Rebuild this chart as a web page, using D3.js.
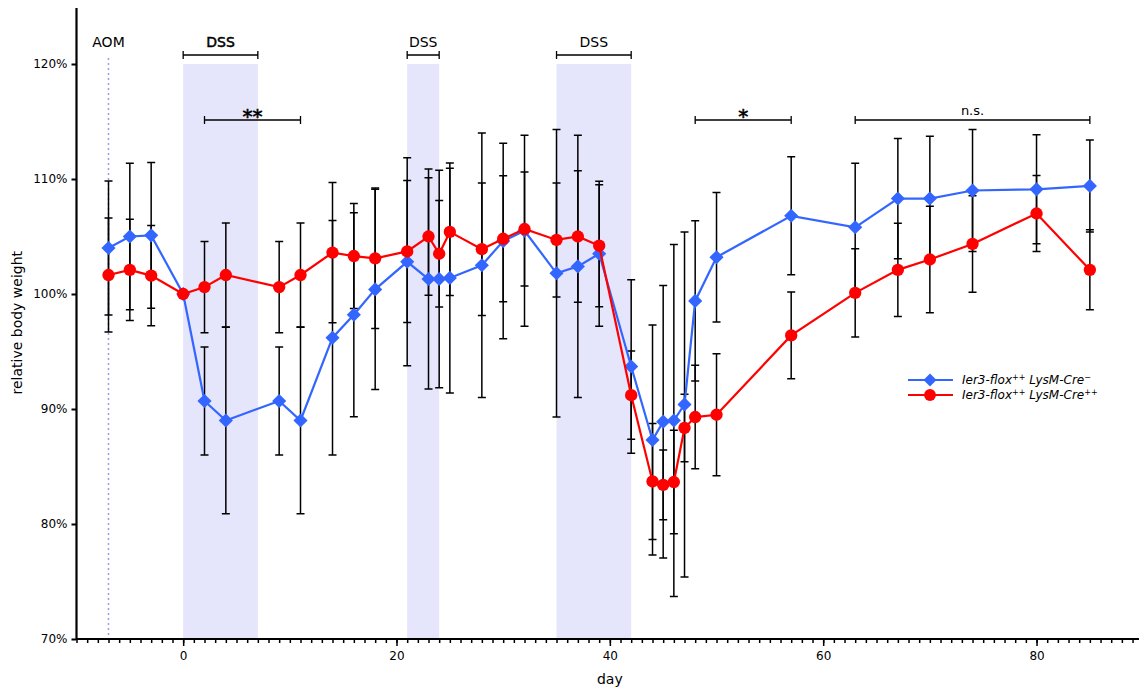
<!DOCTYPE html>
<html>
<head>
<meta charset="utf-8">
<script src="https://cdn.jsdelivr.net/npm/d3@7"></script>
<style>
  body { margin: 0; background: #fff; }
  text { font-family: "DejaVu Sans", sans-serif; }
</style>
</head>
<body>
<svg id="chart" width="1139" height="688"></svg>
<script>
let width = 1139,
  height = 688

// days of measurement
let days = [-7, -5, -3, 0, 2, 4, 9, 11, 14, 16, 18, 21, 23, 24, 25, 28, 30, 32, 35, 37, 39,
  42, 44, 45, 46, 47, 48, 50, 57, 63, 67, 70, 74, 80, 85]

// Ier3-flox++ LysM-Cre-
let blueMean = [104.0, 105.0, 105.1, 100, 90.7, 89.0, 90.7, 89.0, 96.2, 98.2, 100.4, 102.8, 101.3, 101.3, 101.4,
  102.5, 104.6, 105.5, 101.8, 102.4, 103.5, 93.7, 87.3, 88.9, 89.0, 90.4, 99.4, 103.2, 106.8,
  105.8, 108.3, 108.3, 109.0, 109.1, 109.4]
let blueErr = [5.83, 6.37, 6.33, 0, 4.7, 8.1, 4.7, 8.1, 10.2, 8.87, 8.7, 9.04, 9.57, 9.46, 10.0,
  11.5, 8.5, 8.3, 12.5, 11.4, 6.3, 7.54, 10.0, 11.85, 15.3, 15.0, 6.96, 5.63, 5.13,
  5.57, 5.23, 5.42, 5.3, 4.74, 4.0]

// Ier3-flox++ LysM-Cre++
let redMean = [101.65, 102.1, 101.6, 100, 100.6, 101.65, 100.6, 101.65, 103.6, 103.3, 103.1, 103.7, 105.0, 103.5, 105.4,
  103.9, 104.8, 105.65, 104.7, 105.0, 104.2, 91.2, 83.7, 83.4, 83.65, 88.35, 89.3, 89.5, 96.4,
  100.1, 102.1, 103.0, 104.35, 107.0, 102.1]
let redErr = [4.96, 4.4, 4.35, 0, 3.96, 4.52, 3.96, 4.52, 6.1, 4.57, 6.11, 6.17, 5.1, 4.64, 5.54,
  5.76, 5.48, 4.95, 4.96, 5.72, 5.3, 3.84, 5.04, 3.04, 4.5, 2.93, 4.5, 5.3, 3.77,
  3.83, 4.06, 4.64, 4.2, 3.3, 3.48]

let dssPeriods = [[0, 7], [21, 24], [35, 42]]
let aomDay = -7
let sigBrackets = [[2, 11, "**"], [48, 57, "*"], [63, 85, "n.s."]]
let yTicks = [70, 80, 90, 100, 110, 120]
let xMajor = [0, 20, 40, 60, 80]

let scales = {
  x: d3.scaleLinear().domain([-10, 90]).range([76.5, 1143.2]),
  y: d3.scaleLinear().domain([70, 125]).range([639, 6.5])
}

let svg = d3.select("#chart")

function nestSeries(mean, err) {
  return days.map((d, i) => ({day: d, value: mean[i], err: err[i]}))
}
let blue = nestSeries(blueMean, blueErr)
let red = nestSeries(redMean, redErr)

// DSS shading
svg.append("g").selectAll("rect")
  .data(dssPeriods).enter()
  .append("rect")
  .attr("x", d => scales.x(d[0]))
  .attr("width", d => scales.x(d[1]) - scales.x(d[0]))
  .attr("y", scales.y(120))
  .attr("height", scales.y(70) - scales.y(120))
  .attr("fill", "#e5e5fb")

// AOM line
svg.append("line")
  .attr("x1", scales.x(aomDay)).attr("x2", scales.x(aomDay))
  .attr("y1", 58).attr("y2", scales.y(70))
  .attr("stroke", "#9a9af0")
  .attr("stroke-width", 1.5)
  .attr("stroke-dasharray", "2,3")

svg.append("text")
  .attr("x", scales.x(aomDay)).attr("y", 47)
  .attr("text-anchor", "middle")
  .attr("font-size", 14)
  .text("AOM")

function bracket(g, x0, x1, y) {
  g.append("path")
    .attr("d", `M${x0},${y - 4}V${y + 4}M${x0},${y}H${x1}M${x1},${y - 4}V${y + 4}`)
    .attr("stroke", "#000")
    .attr("stroke-width", 1.3)
    .attr("fill", "none")
}

let annot = svg.append("g")
dssPeriods.forEach((p, i) => {
  bracket(annot, scales.x(p[0]), scales.x(p[1]), 55)
  annot.append("text")
    .attr("x", (scales.x(p[0]) + scales.x(p[1])) / 2).attr("y", 47)
    .attr("text-anchor", "middle")
    .attr("font-size", 14)
    .attr("stroke", i == 0 ? "#000" : "none")
    .attr("stroke-width", 0.5)
    .text("DSS")
})

sigBrackets.forEach(s => {
  bracket(annot, scales.x(s[0]), scales.x(s[1]), 120)
  annot.append("text")
    .attr("x", (scales.x(s[0]) + scales.x(s[1])) / 2)
    .attr("y", s[2] == "n.s." ? 115 : 123)
    .attr("text-anchor", "middle")
    .attr("font-size", s[2] == "n.s." ? 13 : 20)
    .attr("stroke", s[2] == "n.s." ? "none" : "#000")
    .attr("stroke-width", 0.6)
    .text(s[2])
})

// axes
let xMinor = d3.axisBottom(scales.x).tickValues(d3.range(-10, 90)).tickSize(4).tickFormat("")
svg.append("g").attr("transform", `translate(0, ${scales.y(70)})`)
  .call(xMinor)
  .call(g => g.select(".domain").remove())
  .call(g => g.selectAll("line").attr("stroke-width", 1.5))

let xAxis = d3.axisBottom(scales.x).tickValues(xMajor).tickSize(7).tickPadding(5)
svg.append("g").attr("transform", `translate(0, ${scales.y(70)})`)
  .call(xAxis)
  .call(g => g.select(".domain").remove())
  .call(g => g.selectAll("line").attr("stroke-width", 1.5))
  .call(g => g.selectAll("text").attr("font-size", 12).attr("font-family", "DejaVu Sans"))

let yAxis = d3.axisLeft(scales.y).tickValues(yTicks).tickSize(5).tickPadding(4).tickFormat(d => d + "%")
svg.append("g").attr("transform", `translate(${scales.x(-10)}, 0)`)
  .call(yAxis)
  .call(g => g.select(".domain").remove())
  .call(g => g.selectAll("line").attr("stroke-width", 2))
  .call(g => g.selectAll("text").attr("font-size", 12).attr("font-family", "DejaVu Sans"))

svg.append("line")
  .attr("x1", scales.x(-10)).attr("x2", width)
  .attr("y1", scales.y(70)).attr("y2", scales.y(70))
  .attr("stroke", "#000").attr("stroke-width", 2.2)
svg.append("line")
  .attr("x1", scales.x(-10)).attr("x2", scales.x(-10))
  .attr("y1", 8).attr("y2", scales.y(70) + 1)
  .attr("stroke", "#000").attr("stroke-width", 2.2)

svg.append("text")
  .attr("x", scales.x(40)).attr("y", 684)
  .attr("text-anchor", "middle").attr("font-size", 14)
  .text("day")
svg.append("text")
  .attr("transform", `translate(22, ${scales.y(97.5)}) rotate(-90)`)
  .attr("text-anchor", "middle").attr("font-size", 14)
  .text("relative body weight")

// error bars
function draw_errors(data) {
  let g = svg.append("g")
  data.filter(d => d.err > 0).forEach(d => {
    let x = scales.x(d.day), y0 = scales.y(d.value - d.err), y1 = scales.y(d.value + d.err)
    g.append("path")
      .attr("d", `M${x - 4},${y1}H${x + 4}M${x},${y1}V${y0}M${x - 4},${y0}H${x + 4}`)
      .attr("stroke", "#000")
      .attr("stroke-width", 1.5)
      .attr("fill", "none")
  })
}
draw_errors(blue)
draw_errors(red)

let line_generator = d3.line()
  .x(d => scales.x(d.day))
  .y(d => scales.y(d.value))

// marker: circle, or square turned 45 degrees for the diamond
function marker(sel, kind, size) {
  if (kind == "diamond") {
    sel.attr("d", d3.symbol().type(d3.symbolSquare).size(size))
  } else {
    sel.attr("d", d3.symbol().type(d3.symbolCircle).size(size))
  }
}

function draw_series(data, color, kind, size) {
  svg.append("path")
    .datum(data)
    .attr("d", line_generator)
    .attr("fill", "none")
    .attr("stroke", color)
    .attr("stroke-width", 2.2)
  svg.append("g").selectAll("path")
    .data(data).enter()
    .append("path")
    .call(marker, kind, size)
    .attr("transform", d => `translate(${scales.x(d.day)}, ${scales.y(d.value)})` + (kind == "diamond" ? " rotate(45)" : ""))
    .attr("fill", color)
}
draw_series(blue, "#3366ff", "diamond", 100)
draw_series(red, "#ff0000", "circle", 120)

// legend
let legend = svg.append("g").attr("transform", "translate(908, 380)")
let items = [["#3366ff", "diamond", 85, "\u2212"], ["#ff0000", "circle", 110, "++"]]
items.forEach((it, i) => {
  let row = legend.append("g").attr("transform", `translate(0, ${i * 15})`)
  row.append("line").attr("x1", 0).attr("x2", 45).attr("stroke", it[0]).attr("stroke-width", 2.2)
  row.append("path").call(marker, it[1], it[2])
    .attr("transform", "translate(22, 0)" + (it[1] == "diamond" ? " rotate(45)" : ""))
    .attr("fill", it[0])
  let t = row.append("text").attr("x", 54).attr("y", 4)
    .attr("font-size", 12).attr("font-style", "italic")
  t.append("tspan").text("Ier3-flox")
  t.append("tspan").attr("font-size", 8).attr("dy", -4).text("++")
  t.append("tspan").attr("dy", 4).text(" LysM-Cre")
  t.append("tspan").attr("font-size", 8).attr("dy", -4).text(it[3])
})
</script>
</body>
</html>
